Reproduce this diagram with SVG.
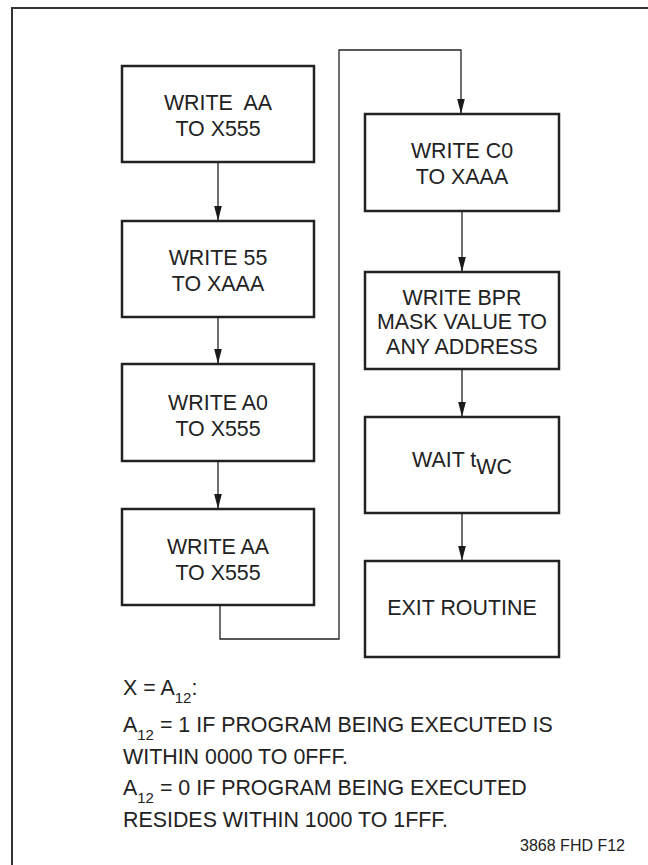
<svg xmlns="http://www.w3.org/2000/svg" width="648" height="865" viewBox="0 0 648 865">
<defs>
<style>
.box{fill:#fff;stroke:#222;stroke-width:2.5}
.t{font-family:"Liberation Sans",Arial,sans-serif;font-size:21.4px;fill:#222;text-anchor:middle}
.n{font-family:"Liberation Sans",Arial,sans-serif;font-size:21.4px;fill:#222}
.sub{font-size:15px}
.c{fill:none;stroke:#222;stroke-width:1.3}
.ah{fill:#1a1a1a}
</style>
</defs>
<rect width="648" height="865" fill="#fff"/>
<path d="M12,880 V8 H660" fill="none" stroke="#333" stroke-width="2"/>
<g id="connectors">
<path class="c" d="M218,162 V221"/>
<path class="c" d="M218,317 V364"/>
<path class="c" d="M218,461 V509"/>
<path class="c" d="M220,605 V639 H339 V50 H461 V114"/>
<path class="c" d="M462,211 V272"/>
<path class="c" d="M462,369 V417"/>
<path class="c" d="M462,513 V561"/>
<path class="ah" d="M214.2,206 L221.8,206 L218,221 Z"/>
<path class="ah" d="M214.2,349 L221.8,349 L218,364 Z"/>
<path class="ah" d="M214.2,494 L221.8,494 L218,509 Z"/>
<path class="ah" d="M457.2,99 L464.8,99 L461,114 Z"/>
<path class="ah" d="M458.2,257 L465.8,257 L462,272 Z"/>
<path class="ah" d="M458.2,402 L465.8,402 L462,417 Z"/>
<path class="ah" d="M458.2,546 L465.8,546 L462,561 Z"/>
</g>
<g id="n1"><rect class="box" x="122" y="66" width="192" height="96"/>
<text class="t" x="218" y="110" xml:space="preserve">WRITE  AA</text><text class="t" x="218" y="136">TO X555</text></g>
<g id="n2"><rect class="box" x="122" y="221" width="192" height="96"/>
<text class="t" x="218" y="265">WRITE 55</text><text class="t" x="218" y="291">TO XAAA</text></g>
<g id="n3"><rect class="box" x="122" y="364" width="192" height="97"/>
<text class="t" x="218" y="410">WRITE A0</text><text class="t" x="218" y="436">TO X555</text></g>
<g id="n4"><rect class="box" x="122" y="509" width="192" height="96"/>
<text class="t" x="218" y="554">WRITE AA</text><text class="t" x="218" y="580">TO X555</text></g>
<g id="n5"><rect class="box" x="365" y="114" width="194" height="97"/>
<text class="t" x="462" y="158">WRITE C0</text><text class="t" x="462" y="184">TO XAAA</text></g>
<g id="n6"><rect class="box" x="365" y="272" width="194" height="97"/>
<text class="t" x="462" y="305">WRITE BPR</text><text class="t" x="462" y="329">MASK VALUE TO</text><text class="t" x="462" y="354">ANY ADDRESS</text></g>
<g id="n7"><rect class="box" x="365" y="417" width="194" height="96"/>
<text class="t" x="462" y="467">WAIT t<tspan dy="7">WC</tspan></text></g>
<g id="n8"><rect class="box" x="365" y="561" width="194" height="96"/>
<text class="t" x="462" y="615">EXIT ROUTINE</text></g>
<g id="notes">
<text class="n" x="123" y="695">X = A<tspan class="sub" dy="8">12</tspan><tspan dy="-8">:</tspan></text>
<text class="n" x="123" y="732">A<tspan class="sub" dy="8">12</tspan><tspan dy="-8"> = 1 IF PROGRAM BEING EXECUTED IS</tspan></text>
<text class="n" x="123" y="764">WITHIN 0000 TO 0FFF.</text>
<text class="n" x="123" y="795">A<tspan class="sub" dy="8">12</tspan><tspan dy="-8"> = 0 IF PROGRAM BEING EXECUTED</tspan></text>
<text class="n" x="123" y="827">RESIDES WITHIN 1000 TO 1FFF.</text>
<text class="n" x="625" y="851" style="font-size:16px;text-anchor:end">3868 FHD F12</text>
</g>
</svg>
